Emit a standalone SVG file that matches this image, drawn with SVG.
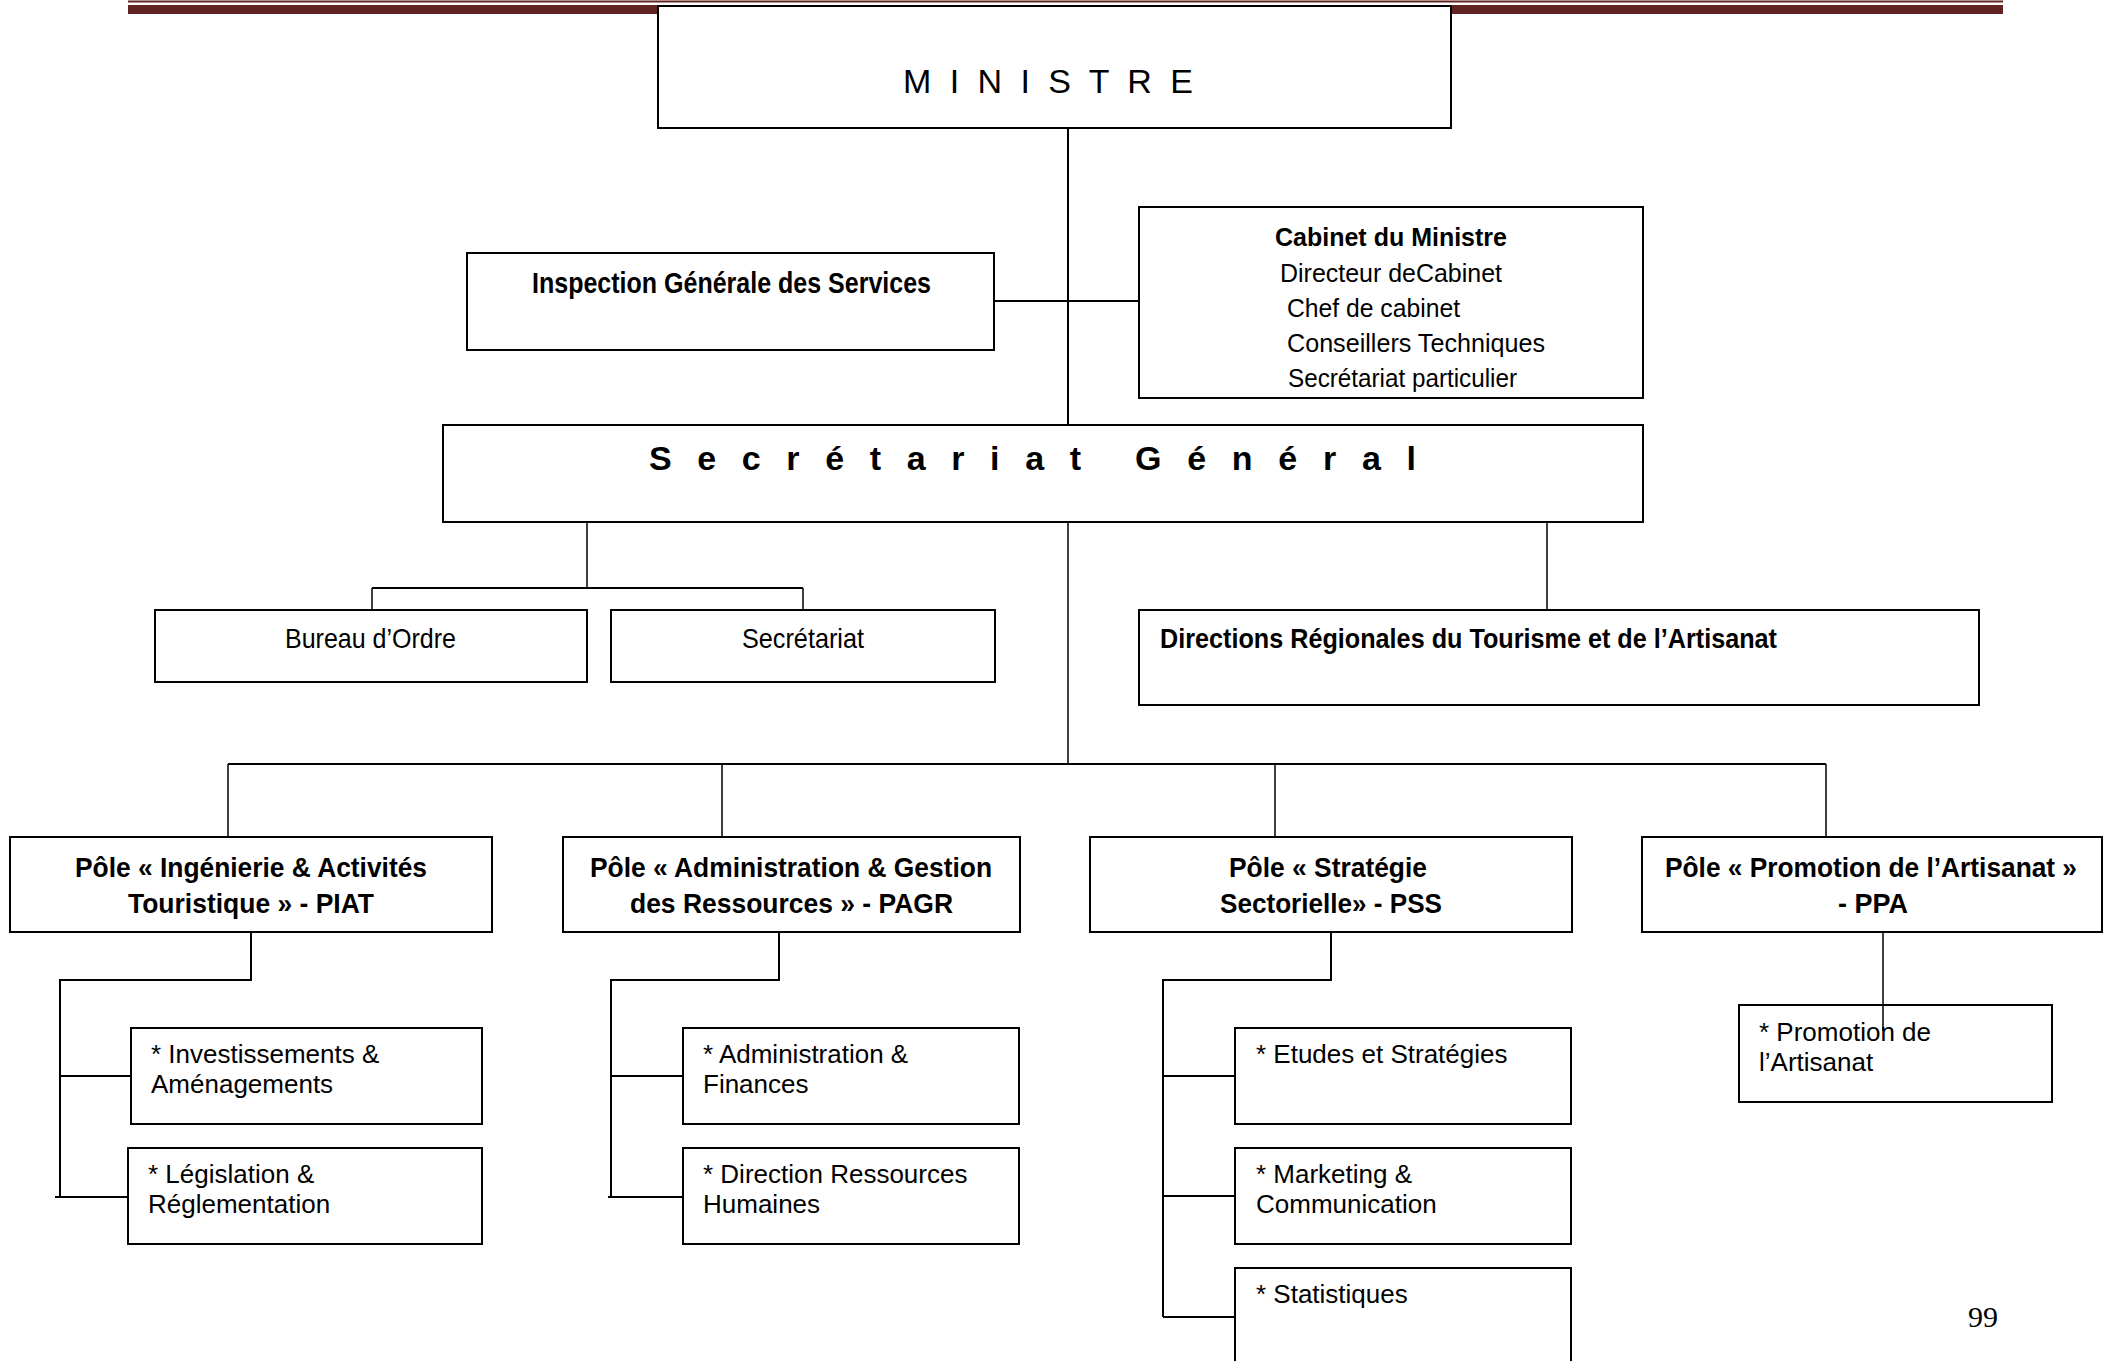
<svg xmlns="http://www.w3.org/2000/svg" width="2111" height="1361" viewBox="0 0 2111 1361">
<style>
.box{fill:#fff;stroke:#000;stroke-width:2}
.conn{fill:none;stroke:#000;stroke-width:2}
.thin{fill:none;stroke:#000;stroke-width:1.5}
text{font-family:"Liberation Sans",Arial,sans-serif;fill:#000}
.b{font-weight:bold}
.t28{font-size:28px}
.t26{font-size:26px}
.pg{font-family:"Liberation Serif","Times New Roman",serif;font-size:30px}
</style>
<rect id="header-thin" x="128" y="0.5" width="1875" height="2" fill="#622423"/>
<rect id="header-bar" x="128" y="5" width="1875" height="9" fill="#622423"/>

<g id="connectors">
<path class="conn" d="M1068 128V433"/>
<path class="conn" d="M994 301H1139"/>
<path class="thin" d="M587 518V588"/>
<path class="conn" d="M372 588H803"/>
<path class="thin" d="M372 588V612M803 588V612"/>
<path class="thin" d="M1547 518V615"/>
<path class="thin" d="M1068 518V764"/>
<path class="conn" d="M228 764H1826"/>
<path class="thin" d="M228 764V837M722 764V837M1275 764V837M1826 764V837"/>
<path class="conn" d="M251 932V980H60V1197M60 1076H131M55 1197H128"/>
<path class="conn" d="M779 932V980H611V1197M611 1076H683M608 1197H683"/>
<path class="conn" d="M1331 932V980H1163V1317M1163 1076H1235M1163 1196H1235M1163 1317H1235"/>
<path class="thin" d="M1883 932V1031"/>
</g>

<g id="ministre">
<rect class="box" x="658" y="6" width="793" height="122"/>
<text x="903" y="93" font-size="34" textLength="290" lengthAdjust="spacing">M I N I S T R E</text>
</g>

<g id="inspection">
<rect class="box" x="467" y="253" width="527" height="97"/>
<text class="b" x="532" y="293" font-size="29" textLength="399" lengthAdjust="spacingAndGlyphs">Inspection Générale des Services</text>
</g>

<g id="cabinet">
<rect class="box" x="1139" y="207" width="504" height="191"/>
<text class="b t26" x="1275" y="246" textLength="232" lengthAdjust="spacingAndGlyphs">Cabinet du Ministre</text>
<text class="t26" x="1280" y="282" textLength="222" lengthAdjust="spacingAndGlyphs">Directeur deCabinet</text>
<text class="t26" x="1287" y="317" textLength="173" lengthAdjust="spacingAndGlyphs">Chef de cabinet</text>
<text class="t26" x="1287" y="352" textLength="258" lengthAdjust="spacingAndGlyphs">Conseillers Techniques</text>
<text class="t26" x="1288" y="387" textLength="229" lengthAdjust="spacingAndGlyphs">Secrétariat particulier</text>
</g>

<g id="secretariat-general">
<rect class="box" x="443" y="425" width="1200" height="97"/>
<text class="b" x="649" y="470" font-size="34" textLength="432" lengthAdjust="spacing">S e c r é t a r i a t</text>
<text class="b" x="1135" y="470" font-size="34" textLength="281" lengthAdjust="spacing">G é n é r a l</text>
</g>

<g id="bureau-ordre">
<rect class="box" x="155" y="610" width="432" height="72"/>
<text class="t28" x="285" y="648" textLength="171" lengthAdjust="spacingAndGlyphs">Bureau d’Ordre</text>
</g>

<g id="secretariat">
<rect class="box" x="611" y="610" width="384" height="72"/>
<text class="t28" x="742" y="648" textLength="122" lengthAdjust="spacingAndGlyphs">Secrétariat</text>
</g>

<g id="directions-regionales">
<rect class="box" x="1139" y="610" width="840" height="95"/>
<text class="b t28" x="1160" y="648" textLength="617" lengthAdjust="spacingAndGlyphs">Directions Régionales du Tourisme et de l’Artisanat</text>
</g>

<g id="pole-piat">
<rect class="box" x="10" y="837" width="482" height="95"/>
<text class="b t28" x="75" y="877" textLength="352" lengthAdjust="spacingAndGlyphs">Pôle « Ingénierie &amp; Activités</text>
<text class="b t28" x="128" y="913" textLength="246" lengthAdjust="spacingAndGlyphs">Touristique » - PIAT</text>
</g>

<g id="pole-pagr">
<rect class="box" x="563" y="837" width="457" height="95"/>
<text class="b t28" x="590" y="877" textLength="402" lengthAdjust="spacingAndGlyphs">Pôle « Administration &amp; Gestion</text>
<text class="b t28" x="630" y="913" textLength="323" lengthAdjust="spacingAndGlyphs">des Ressources » - PAGR</text>
</g>

<g id="pole-pss">
<rect class="box" x="1090" y="837" width="482" height="95"/>
<text class="b t28" x="1229" y="877" textLength="198" lengthAdjust="spacingAndGlyphs">Pôle « Stratégie</text>
<text class="b t28" x="1220" y="913" textLength="222" lengthAdjust="spacingAndGlyphs">Sectorielle» - PSS</text>
</g>

<g id="pole-ppa">
<rect class="box" x="1642" y="837" width="460" height="95"/>
<text class="b t28" x="1665" y="877" textLength="412" lengthAdjust="spacingAndGlyphs">Pôle « Promotion de l’Artisanat »</text>
<text class="b t28" x="1838" y="913" textLength="70" lengthAdjust="spacingAndGlyphs">- PPA</text>
</g>

<g id="investissements">
<rect class="box" x="131" y="1028" width="351" height="96"/>
<text class="t26" x="151" y="1063">* Investissements &amp;</text>
<text class="t26" x="151" y="1093">Aménagements</text>
</g>

<g id="legislation">
<rect class="box" x="128" y="1148" width="354" height="96"/>
<text class="t26" x="148" y="1183">* Législation &amp;</text>
<text class="t26" x="148" y="1213">Réglementation</text>
</g>

<g id="administration-finances">
<rect class="box" x="683" y="1028" width="336" height="96"/>
<text class="t26" x="703" y="1063">* Administration &amp;</text>
<text class="t26" x="703" y="1093">Finances</text>
</g>

<g id="ressources-humaines">
<rect class="box" x="683" y="1148" width="336" height="96"/>
<text class="t26" x="703" y="1183">* Direction Ressources</text>
<text class="t26" x="703" y="1213">Humaines</text>
</g>

<g id="etudes-strategies">
<rect class="box" x="1235" y="1028" width="336" height="96"/>
<text class="t26" x="1256" y="1063">* Etudes et Stratégies</text>
</g>

<g id="marketing">
<rect class="box" x="1235" y="1148" width="336" height="96"/>
<text class="t26" x="1256" y="1183">* Marketing &amp;</text>
<text class="t26" x="1256" y="1213">Communication</text>
</g>

<g id="statistiques">
<rect class="box" x="1235" y="1268" width="336" height="110"/>
<text class="t26" x="1256" y="1303">* Statistiques</text>
</g>

<g id="promotion-artisanat">
<rect class="box" x="1739" y="1005" width="313" height="97"/>
<text class="t26" x="1759" y="1041">* Promotion de</text>
<text class="t26" x="1759" y="1071">l’Artisanat</text>
</g>
<path class="thin" d="M1883 1005V1031"/>

<text class="pg" x="1968" y="1327">99</text>
</svg>
